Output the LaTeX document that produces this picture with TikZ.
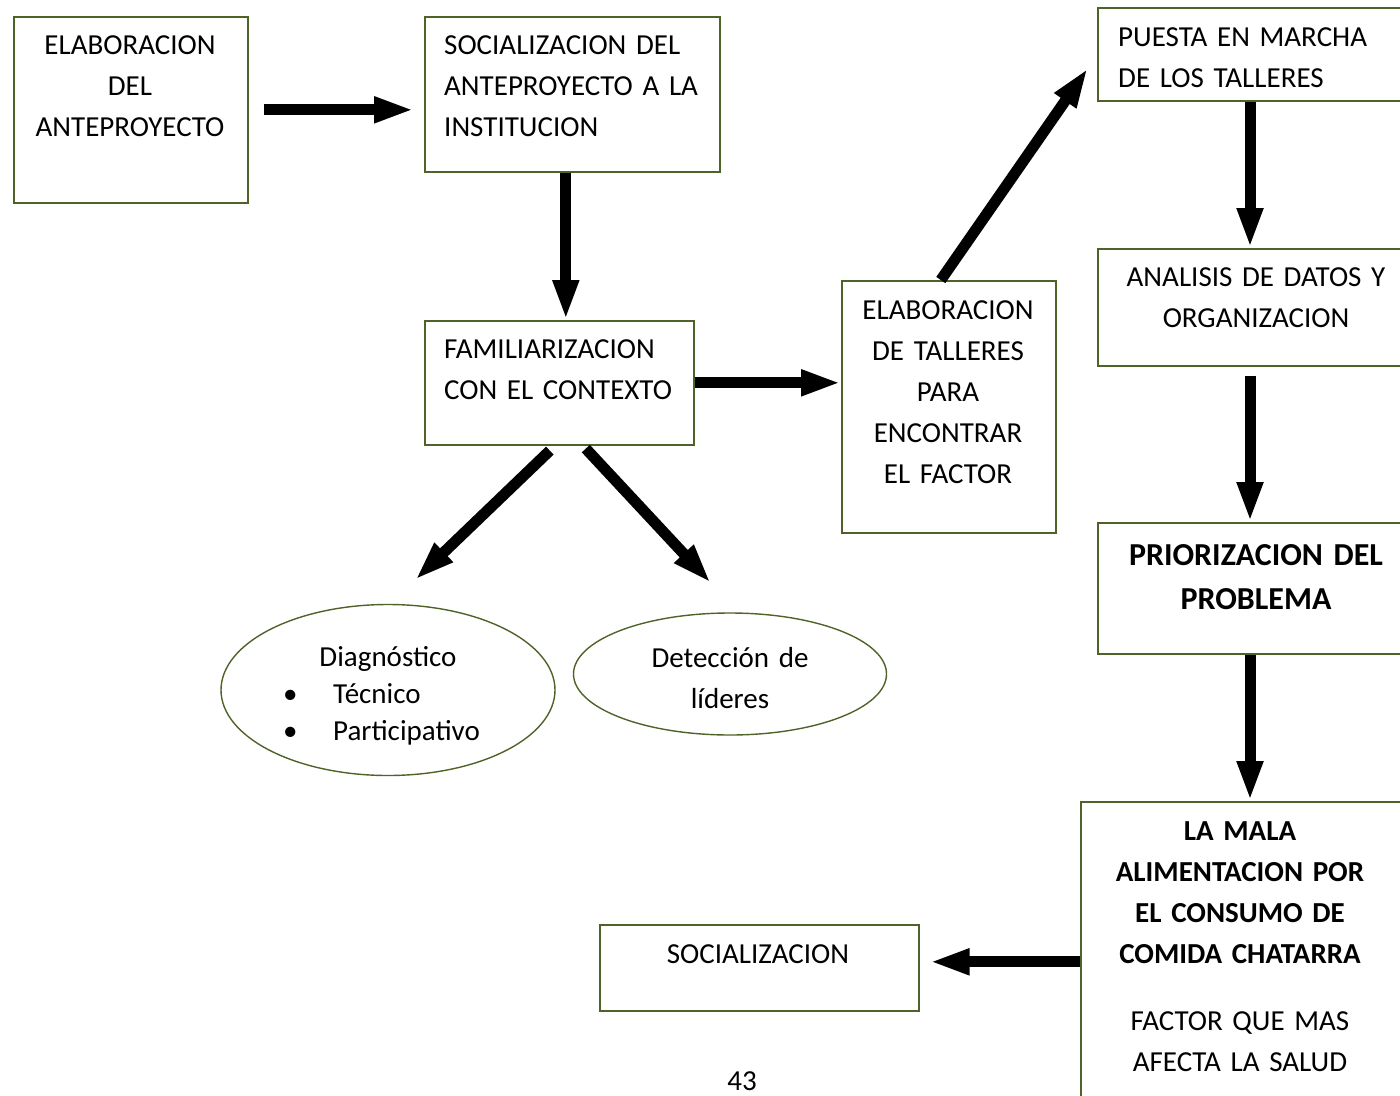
\documentclass[tikz,border=0pt]{standalone}
\usepackage{fontspec}
\setmainfont{Carlito}
\usetikzlibrary{positioning, arrows.meta, shapes.geometric}
\tikzset{>=latex}
\definecolor{olivo}{RGB}{79,98,40}

\begin{document}
\begin{tikzpicture}[x=1pt,y=-1pt,
    caja/.style={draw=olivo, line width=1.6pt, anchor=north west, inner sep=0pt},
    globo/.style={ellipse, draw=olivo, line width=1.4pt, inner sep=0pt},
    texto/.style={anchor=base, inner sep=0pt, align=center, font=\fontsize{29}{41}\selectfont},
    flecha/.style={line width=11pt, -{Triangle[length=40pt,width=24pt]}}
    ]

    \useasboundingbox (0,0) rectangle (1400,1095);

    %boxes, placed at their upper left corners
    \node[caja, minimum width=234, minimum height=186] (anteproy) at (13,16) {};
    \node[caja, minimum width=295, minimum height=155] (socializ) at (424,16) {};
    \node[caja, minimum width=269, minimum height=124] (familiar) at (424,320) {};
    \node[caja, minimum width=214, minimum height=252] (talleres) at (841,280) {};
    \node[caja, minimum width=330, minimum height=93] (puesta) at (1097,7) {};
    \node[caja, minimum width=330, minimum height=117] (analisis) at (1097,248) {};
    \node[caja, minimum width=330, minimum height=131] (prioriz) at (1097,522) {};
    \node[caja, minimum width=350, minimum height=320] (malaalim) at (1080,801) {};
    \node[caja, minimum width=319, minimum height=86] (socfinal) at (599,924) {};

    \node[globo, minimum width=334, minimum height=171] (diagnost) at (388,690) {};
    \node[globo, minimum width=313, minimum height=122] (lideres) at (730,674) {};

    %texts
    \node[texto, text width=230] (anteproytxt) at (130,54) {ELABORACION\\DEL\\ANTEPROYECTO};
    \node[texto, anchor=base west, align=left, text width=270] (socializtxt) at (444,54)
        {SOCIALIZACION DEL\\ANTEPROYECTO A LA\\INSTITUCION};
    \node[texto, anchor=base west, align=left, text width=250] (familiartxt) at (444,358)
        {FAMILIARIZACION\\CON EL CONTEXTO};
    \node[texto, text width=210] (tallerestxt) at (948,319)
        {ELABORACION\\DE TALLERES\\PARA\\ENCONTRAR\\EL FACTOR};
    \node[texto, anchor=base west, align=left, text width=280] (puestatxt) at (1118,46)
        {PUESTA EN MARCHA\\DE LOS TALLERES};
    \node[texto, text width=300] (analisistxt) at (1256,286)
        {ANALISIS DE DATOS Y\\ORGANIZACION};
    \node[texto, text width=300, font=\fontsize{32}{44}\selectfont\bfseries] (prioriztxt) at (1256,565)
        {PRIORIZACION DEL\\PROBLEMA};
    \node[texto, text width=310] (malaalimtxt) at (1240,840)
        {{\bfseries LA MALA\\ALIMENTACION POR\\EL CONSUMO DE\\COMIDA CHATARRA}\\[26pt]
         FACTOR QUE MAS\\AFECTA LA SALUD};
    \node[texto, text width=300] (socfinaltxt) at (758,963) {SOCIALIZACION};

    \node[texto, text width=250] (diagnosttxt) at (388,666) {Diagnóstico};
    \node[texto, anchor=base west, align=left, text width=250, font=\fontsize{29}{37}\selectfont]
        (diagnostlst) at (283,703)
        {\makebox[50pt][l]{\textbullet}Técnico\\\makebox[50pt][l]{\textbullet}Participativo};
    \node[texto, text width=250] (liderestxt) at (730,667) {Detección de\\líderes};

    \node[texto, text width=60] (pagina) at (742,1090) {43};

    %free ends of the connectors
    \coordinate (rightcol) at (1250,0);
    \coordinate (diagtip) at (415,580);
    \coordinate (lidertip) at (711,583);
    \coordinate (puestatip) at (1088,68);

    %connectors
    \draw[flecha] ([xshift=15]anteproy.east) -- ([xshift=-10]socializ.west |- anteproy.east);
    \draw[flecha] ([xshift=-6.5]socializ.south) -- ([xshift=6.5]familiar.north);
    \draw[flecha] (familiar.east) -- (familiar.east -| talleres.west);
    \draw[flecha] ([xshift=-9.5,yshift=-5]familiar.south) -- (diagtip);
    \draw[flecha] ([xshift=26.5,yshift=-3]familiar.south) -- (lidertip);
    \draw[flecha] ([xshift=-8]talleres.north) -- (puestatip);
    \draw[flecha] (puesta.south -| rightcol) -- (analisis.north -| rightcol);
    \draw[flecha] ([yshift=-9]analisis.south -| rightcol) -- (prioriz.north -| rightcol);
    \draw[flecha] (prioriz.south -| rightcol) -- (malaalim.north -| rightcol);
    \draw[flecha] (malaalim.west) -- ([xshift=10]socfinal.east |- malaalim.west);

\end{tikzpicture}
\end{document}
